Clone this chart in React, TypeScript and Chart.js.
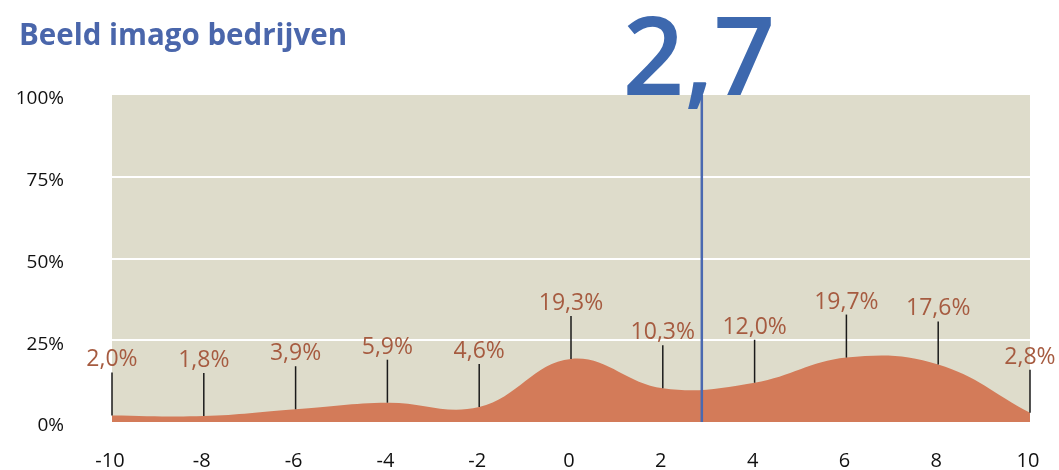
import React, { useEffect, useRef } from "react";
import { Chart, registerables } from "chart.js";

Chart.register(...registerables);

const TITLE = "Beeld imago bedrijven";
const xValues = [-10, -8, -6, -4, -2, 0, 2, 4, 6, 8, 10];
const yValues = [2.0, 1.8, 3.9, 5.9, 4.6, 19.3, 10.3, 12.0, 19.7, 17.6, 2.8];
const markerValue = 2.85;
const markerLabel = "2,7";
const yTicks = [0, 25, 50, 75, 100];

const BG = "#dedccb";
const AREA = "#d37b59";
const LABEL = "#a65b40";
const BLUE = "#4a69b0";
const BIG_BLUE = "#3d68ae";

const fmt = (v: number) => v.toFixed(1).replace(".", ",") + "%";

const overlay = {
  id: "overlay",
  beforeDraw(chart: any) {
    const { ctx, chartArea } = chart;
    ctx.save();
    ctx.fillStyle = BG;
    ctx.fillRect(chartArea.left, chartArea.top, chartArea.right - chartArea.left, chartArea.bottom - chartArea.top);
    ctx.restore();
    ctx.save();
    ctx.fillStyle = "#4a66ab";
    ctx.font = "bold 29.5px 'Open Sans'";
    ctx.textAlign = "left";
    ctx.textBaseline = "alphabetic";
    ctx.fillText(TITLE, 19, 45);
    ctx.restore();
  },
  afterDatasetsDraw(chart: any) {
    const { ctx, chartArea } = chart;
    const meta = chart.getDatasetMeta(0);
    ctx.save();
    meta.data.forEach((pt: any, i: number) => {
      const x = pt.x;
      const y = pt.y;
      ctx.strokeStyle = "#1a1a1a";
      ctx.lineWidth = 1.5;
      ctx.beginPath();
      ctx.moveTo(x, y);
      ctx.lineTo(x, y - 43);
      ctx.stroke();
      ctx.fillStyle = LABEL;
      ctx.font = "500 23px 'Open Sans'";
      ctx.textAlign = "center";
      ctx.textBaseline = "alphabetic";
      ctx.fillText(fmt(yValues[i]), x, y - 49);
    });
    ctx.restore();
    const mx = chart.scales.x.getPixelForValue(markerValue);
    ctx.save();
    ctx.strokeStyle = BLUE;
    ctx.lineWidth = 2.5;
    ctx.beginPath();
    ctx.moveTo(mx, chartArea.top);
    ctx.lineTo(mx, chartArea.bottom);
    ctx.stroke();
    ctx.fillStyle = BIG_BLUE;
    ctx.font = "600 108px 'Open Sans'";
    ctx.textAlign = "center";
    ctx.textBaseline = "alphabetic";
    ctx.fillText(markerLabel, mx - 3, 95);
    ctx.restore();
  },
};

const zeroPad = (s: any) => {
  s.paddingLeft = 0;
  s.paddingRight = 0;
  s.paddingTop = 0;
  s.paddingBottom = 0;
};

export default function App() {
  const ref = useRef<HTMLCanvasElement | null>(null);
  useEffect(() => {
    if (!ref.current) return;
    const chart = new Chart(ref.current, {
      type: "line",
      data: {
        datasets: [
          {
            data: xValues.map((x, i) => ({ x, y: yValues[i] })),
            fill: "origin",
            backgroundColor: AREA,
            borderColor: AREA,
            borderWidth: 0,
            pointRadius: 0,
            tension: 0.4,
          },
        ],
      },
      options: {
        animation: false,
        responsive: false,
        maintainAspectRatio: false,
        layout: { padding: { top: 95, right: 29, left: 0, bottom: 0 } },
        plugins: { legend: { display: false }, tooltip: { enabled: false }, title: { display: false } },
        scales: {
          x: {
            type: "linear",
            min: -10,
            max: 10,
            afterFit: (s: any) => {
              s.height = 48;
              zeroPad(s);
            },
            afterBuildTicks: (s: any) => {
              s.ticks = xValues.map((v) => ({ value: v }));
            },
            grid: { display: false, drawTicks: false },
            border: { display: false },
            ticks: {
              color: "#111",
              font: { family: "'Open Sans'", size: 20 },
              padding: 27,
              labelOffset: -2,
              maxRotation: 0,
              autoSkip: false,
            },
          },
          y: {
            min: 0,
            max: 100,
            afterFit: (s: any) => {
              s.width = 112;
              zeroPad(s);
            },
            afterBuildTicks: (s: any) => {
              s.ticks = yTicks.map((v) => ({ value: v }));
            },
            grid: {
              drawTicks: false,
              lineWidth: 2,
              color: (c: any) => (c.tick && c.tick.value > 0 && c.tick.value < 100 ? "#ffffff" : "rgba(0,0,0,0)"),
            },
            border: { display: false },
            ticks: {
              color: "#111",
              font: { family: "'Open Sans'", size: 19, weight: 500 },
              padding: 48,
              labelOffset: 4,
              callback: (v: any) => v + "%",
            },
          },
        },
      },
      plugins: [overlay],
    });
    return () => chart.destroy();
  }, []);
  return (
    <div style={{ position: "absolute", left: 0, top: 0, width: 1059, height: 470, background: "#fff" }}>
      <canvas ref={ref} width={1059} height={470} style={{ width: 1059, height: 470, display: "block" }} />
    </div>
  );
}
